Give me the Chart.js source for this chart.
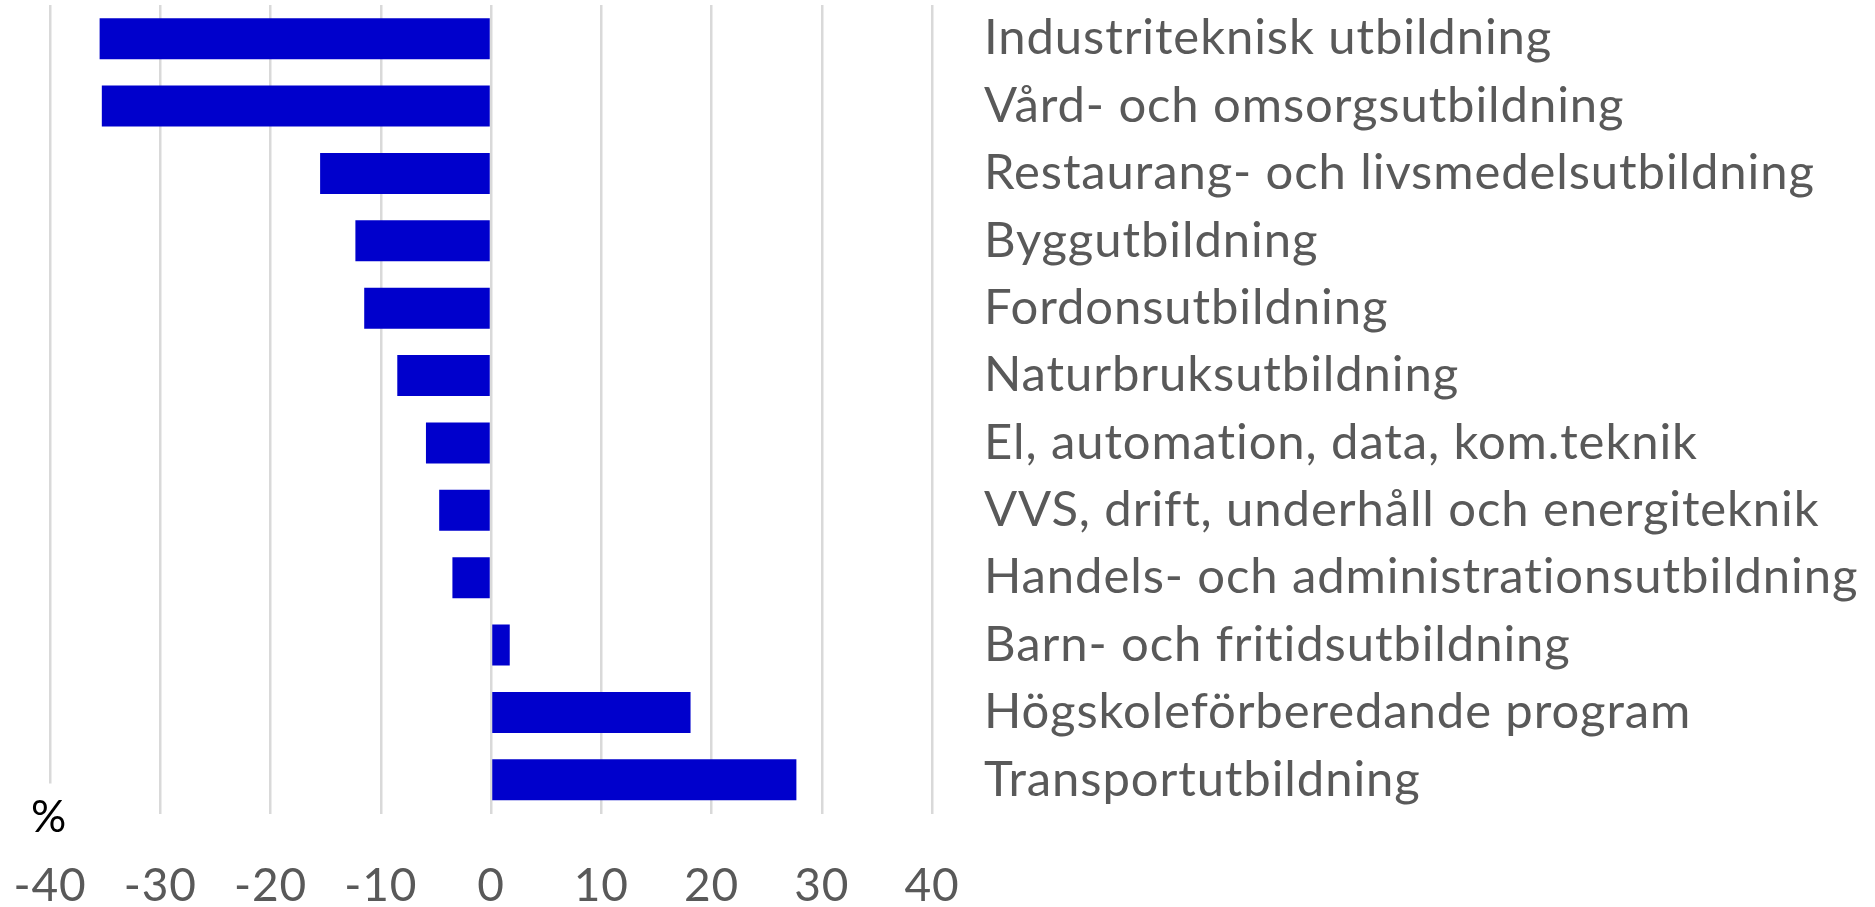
<!DOCTYPE html>
<html>
<head>
<meta charset="utf-8">
<script src="https://cdn.jsdelivr.net/npm/chart.js@4"></script>
<style>
  html, body { margin: 0; padding: 0; background: #fff; }
  #wrap { width: 1875px; height: 907px; }
</style>
</head>
<body>
<div id="wrap"><canvas id="myChart"></canvas></div>
<script>
// Programs, top to bottom
var programs = [
    'Industriteknisk utbildning',
    'Vård- och omsorgsutbildning',
    'Restaurang- och livsmedelsutbildning',
    'Byggutbildning',
    'Fordonsutbildning',
    'Naturbruksutbildning',
    'El, automation, data, kom.teknik',
    'VVS, drift, underhåll och energiteknik',
    'Handels- och administrationsutbildning',
    'Barn- och fritidsutbildning',
    'Högskoleförberedande program',
    'Transportutbildning'
];

// Change in percent
var changes = [-35.5, -35.3, -15.5, -12.3, -11.5, -8.5, -5.9, -4.7, -3.5, 1.7, 18.1, 27.7];

// Axis range
var xMin = -40;
var xMax = 40;
var xStep = 10;

var fontFamily = 'Lato, "Open Sans", sans-serif';

// Slight letter spacing (also stops the "ti" ligature in Lato)
var spacing = {
    id: 'spacing',
    beforeDraw: function(chart) {
        chart.ctx.letterSpacing = '0.9px';
    }
};

// Draws the "%" unit label in the lower left corner
var unitLabel = {
    id: 'unitLabel',
    afterDraw: function(chart) {
        var ctx = chart.ctx;
        var x = chart.scales.x.getPixelForValue(xMin);
        var y = chart.chartArea.bottom;
        ctx.save();
        ctx.fillStyle = '#ffffff';
        ctx.fillRect(x - 20, y - 30, 40, 50);
        ctx.fillStyle = '#000000';
        ctx.font = '44px ' + fontFamily;
        ctx.textAlign = 'center';
        ctx.textBaseline = 'middle';
        ctx.fillText('%', x - 1, y + 4);
        ctx.restore();
    }
};

var ctx = document.getElementById('myChart').getContext('2d');

var chart = new Chart(ctx, {
    type: 'bar',
    data: {
        labels: programs,
        datasets: [{
            data: changes,
            backgroundColor: '#0000cc',
            borderWidth: 0,
            categoryPercentage: 1,
            barPercentage: 0.61
        }]
    },
    options: {
        indexAxis: 'y',
        responsive: true,
        maintainAspectRatio: false,
        animation: false,
        layout: { padding: { left: 50, top: 5, right: 0, bottom: 0 } },
        plugins: {
            legend: { display: false },
            tooltip: { enabled: false }
        },
        scales: {
            x: {
                min: xMin,
                max: xMax,
                ticks: {
                    stepSize: xStep,
                    color: '#595959',
                    font: { family: fontFamily, size: 46 },
                    padding: 45,
                    maxRotation: 0
                },
                grid: { color: '#d9d9d9', lineWidth: 2.5, drawTicks: false },
                border: { display: false },
                afterFit: function(scale) {
                    scale.height = 93.5;
                    scale.paddingLeft = 0;
                    scale.paddingRight = 0;
                }
            },
            y: {
                position: 'right',
                ticks: {
                    color: '#595959',
                    font: { family: fontFamily, size: 49 },
                    padding: 52,
                    autoSkip: false
                },
                grid: { display: false, drawTicks: false },
                border: { display: false },
                afterFit: function(scale) {
                    scale.width = 943;
                    scale.paddingTop = 0;
                    scale.paddingBottom = 0;
                }
            }
        }
    },
    plugins: [spacing, unitLabel]
});
</script>
</body>
</html>
